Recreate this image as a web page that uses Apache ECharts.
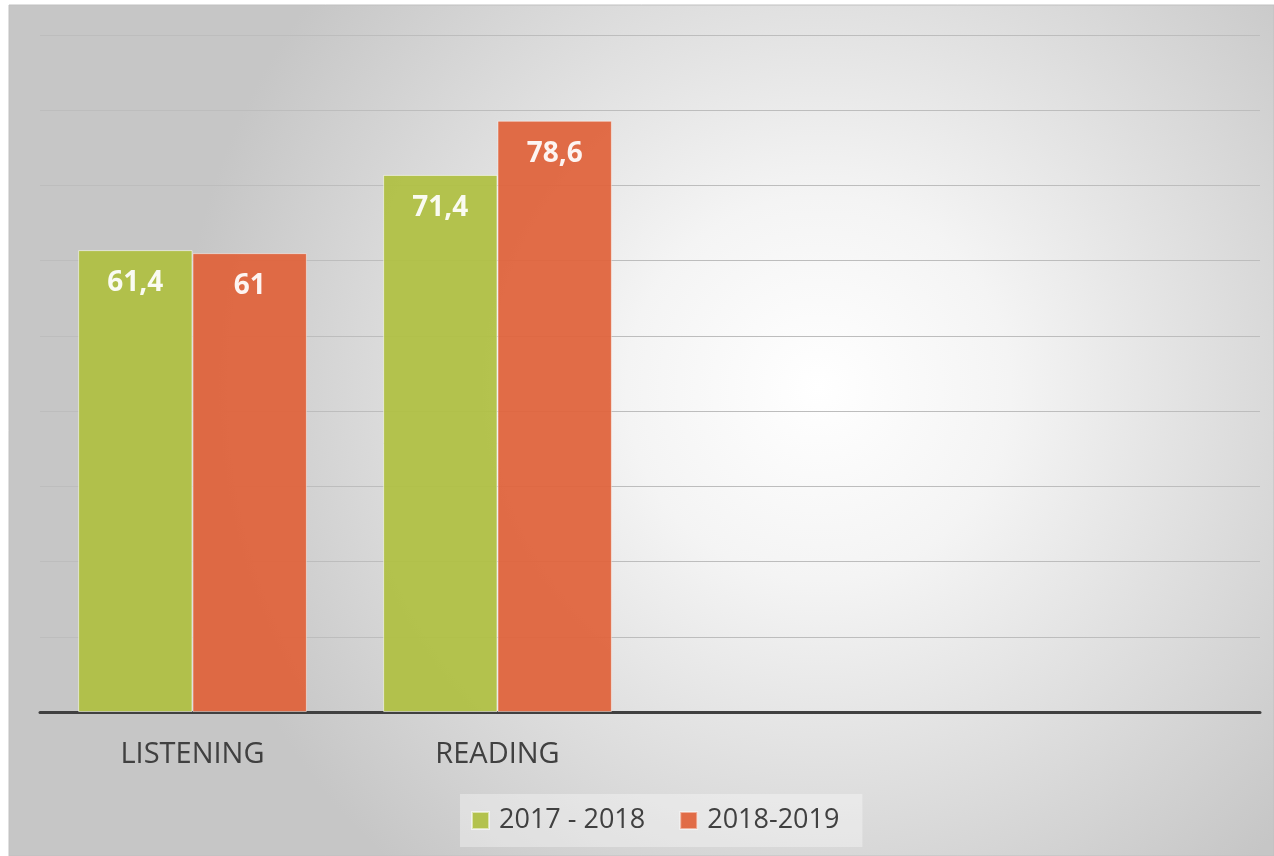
<!DOCTYPE html>
<html>
<head>
<meta charset="utf-8">
<script src="https://cdn.jsdelivr.net/npm/echarts@6/dist/echarts.min.js"></script>
<style>
html, body { margin: 0; padding: 0; background: #fff; }
#chart { width: 1274px; height: 856px; }
</style>
</head>
<body>
<div id="chart"></div>
<script>
var categories = ['LISTENING', 'READING', '', ''];
var seriesNames = ['2017 - 2018', '2018-2019'];
var values2017 = [61.4, 71.4, null, null];
var values2018 = [61, 78.6, null, null];

window.onload = function(){
    var myChart = echarts.init(document.getElementById('chart'));

    function commaLabel(p){
        return String(p.value).replace('.', ',');
    }

    var option = {
        backgroundColor: '#ffffff',
        textStyle: { fontFamily: 'Open Sans' },
        graphic: [
            {
                type: 'rect',
                z: -10,
                silent: true,
                shape: { x: 9, y: 5, width: 1265, height: 851 },
                style: {
                    fill: new echarts.graphic.RadialGradient(0.64, 0.45, 0.75, [
                        { offset: 0, color: '#ffffff' },
                        { offset: 0.3, color: '#f4f4f4' },
                        { offset: 1, color: '#c6c6c6' }
                    ]),
                    stroke: '#c0c0c0',
                    lineWidth: 1
                }
            }
        ],
        grid: {
            left: 40,
            right: 14,
            top: 35,
            bottom: 144
        },
        legend: {
            left: 460,
            top: 794,
            padding: [13, 23, 13, 11],
            backgroundColor: 'rgba(255,255,255,0.35)',
            itemWidth: 17,
            itemHeight: 17,
            itemGap: 34,
            icon: 'rect',
            textStyle: { fontSize: 27, color: '#404040', fontFamily: 'Open Sans', padding: [0, 0, 0, 5] },
            data: seriesNames
        },
        xAxis: {
            type: 'category',
            data: categories,
            axisTick: { show: false },
            axisLine: { lineStyle: { color: '#404040', width: 3 } },
            axisLabel: { fontSize: 29, color: '#404040', margin: 28 }
        },
        yAxis: {
            type: 'value',
            min: 0,
            max: 90,
            interval: 10,
            axisLabel: { show: false },
            axisLine: { show: false },
            axisTick: { show: false },
            splitLine: { lineStyle: { color: '#bdbdbd', width: 1 } }
        },
        series: [
            {
                name: seriesNames[0],
                type: 'bar',
                barGap: '0%',
                barCategoryGap: '25%',
                data: values2017,
                itemStyle: { color: '#afc042', opacity: 0.93, borderColor: 'rgba(255,255,255,0.6)', borderWidth: 1 },
                label: {
                    show: true,
                    position: 'insideTop',
                    distance: 19,
                    color: '#ffffff',
                    fontSize: 28,
                    fontWeight: 'bold',
                    formatter: commaLabel
                }
            },
            {
                name: seriesNames[1],
                type: 'bar',
                data: values2018,
                itemStyle: { color: '#e0623a', opacity: 0.93, borderColor: 'rgba(255,255,255,0.5)', borderWidth: 1 },
                label: {
                    show: true,
                    position: 'insideTop',
                    distance: 19,
                    color: '#ffffff',
                    fontSize: 28,
                    fontWeight: 'bold',
                    formatter: commaLabel
                }
            }
        ]
    };
    myChart.setOption(option);

    window.onresize = function () {
        myChart.resize();
    };
};
</script>
</body>
</html>
